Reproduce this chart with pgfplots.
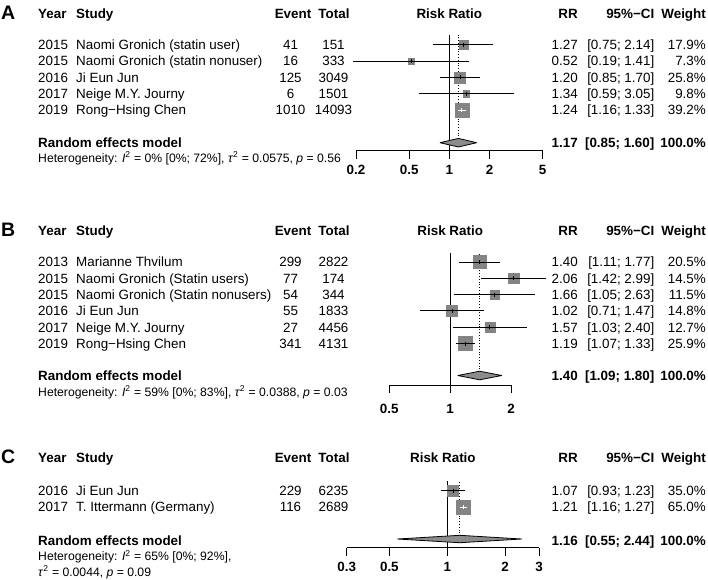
\documentclass[border=0pt]{standalone}
\usepackage{fontspec}
\setmainfont{Liberation Sans}
\usepackage{pgfplots}
\usepackage{pgfplotstable}
\pgfplotsset{compat=1.18}
\definecolor{sqgray}{RGB}{132,132,132}
\definecolor{dmgray}{RGB}{140,140,140}
\newcommand\fs{\fontsize{13.4}{16}\selectfont}
\newcommand\fh{\fontsize{12.2}{14}\selectfont}
\newcommand\fl{\fontsize{19.5}{22}\selectfont\bfseries}
\newcommand\tk{\fontsize{13.4}{16}\selectfont\bfseries}
\tikzset{t/.style={inner sep=0pt,font=\fs}}
% y = baseline in reference pixels (from top)
\newcommand\studyrow[8]{%
 \node[t,anchor=base west] at (38,-#1) {#2};
 \node[t,anchor=base west] at (76,-#1) {#3};
 \node[t,anchor=base] at (290.5,-#1) {#4};
 \node[t,anchor=base] at (333.5,-#1) {#5};
 \node[t,anchor=base east] at (578,-#1) {#6};
 \node[t,anchor=base east] at (654.5,-#1) {#7};
 \node[t,anchor=base east] at (706,-#1) {#8};
}
\newcommand\header[3]{% letter, baseline, risk-ratio centre x
 \node[inner sep=0pt,anchor=base west,font=\fl] at (1,-#2-1) {#1};
 \node[t,anchor=base west,font=\fs\bfseries] at (38,-#2) {Year};
 \node[t,anchor=base west,font=\fs\bfseries] at (76,-#2) {Study};
 \node[t,anchor=base,font=\fs\bfseries] at (293,-#2) {Event};
 \node[t,anchor=base,font=\fs\bfseries] at (334,-#2) {Total};
 \node[t,anchor=base,font=\fs\bfseries] at (#3,-#2) {Risk Ratio};
 \node[t,anchor=base east,font=\fs\bfseries] at (578,-#2) {RR};
 \node[t,anchor=base east,font=\fs\bfseries] at (654.5,-#2) {95\%−CI};
 \node[t,anchor=base east,font=\fs\bfseries] at (706,-#2) {Weight};
}
\newcommand\rerow[4]{% baseline, rr, ci, weight
 \node[t,anchor=base west,font=\fs\bfseries] at (38,-#1) {Random effects model};
 \node[t,anchor=base east,font=\fs\bfseries] at (578,-#1) {#2};
 \node[t,anchor=base east,font=\fs\bfseries] at (654.5,-#1) {#3};
 \node[t,anchor=base east,font=\fs\bfseries] at (706,-#1) {#4};
}
\pgfplotstableread{
rr   lo   hi   y     s
1.27 0.75 2.14 44.8  9
0.52 0.19 1.41 61.1  5.5
1.20 0.85 1.70 77.4  11
1.34 0.59 3.05 93.7  6.2
1.24 1.16 1.33 110.0 14
}\tabA
\pgfplotstableread{
rr   lo   hi   y     s
1.40 1.11 1.77 262.0 12.7
2.06 1.42 2.99 278.3 10.3
1.66 1.05 2.63 294.6 9.3
1.02 0.71 1.47 310.9 10.7
1.57 1.03 2.40 327.2 10
1.19 1.07 1.33 343.5 14.3
}\tabB
\pgfplotstableread{
rr   lo   hi   y     s
1.07 0.93 1.23 490.5 11
1.21 1.16 1.27 507.0 14
}\tabC
\begin{document}
\begin{tikzpicture}[x=1pt,y=1pt]
\path[use as bounding box] (0,0) rectangle (708,-579);
% ---------------- Panel A
\header{A}{18.1}{449.3}
\studyrow{49.6}{2015}{Naomi Gronich (statin user)}{41}{151}{1.27}{[0.75; 2.14]}{17.9\%}
\studyrow{65.9}{2015}{Naomi Gronich (statin nonuser)}{16}{333}{0.52}{[0.19; 1.41]}{7.3\%}
\studyrow{82.2}{2016}{Ji Eun Jun}{125}{3049}{1.20}{[0.85; 1.70]}{25.8\%}
\studyrow{98.5}{2017}{Neige M.Y. Journy}{6}{1501}{1.34}{[0.59; 3.05]}{9.8\%}
\studyrow{114.8}{2019}{Rong−Hsing Chen}{1010}{14093}{1.24}{[1.16; 1.33]}{39.2\%}
\rerow{147.5}{1.17}{[0.85; 1.60]}{100.0\%}
\node[inner sep=0pt,anchor=base west,font=\fh] at (38,-162) {Heterogeneity: \textit{I}\textsuperscript{2} = 0\% [0\%; 72\%], \textit{τ}\textsuperscript{2} = 0.0575, \textit{p} = 0.56};
\begin{axis}[scale only axis, anchor=south west, clip=false, clip marker paths=true,
  xmode=log, axis x line*=bottom, axis y line=none, ytick=\empty,
  tick align=outside, major tick length=8pt, xminorticks=false,
  axis line style={line width=1pt}, every tick/.style={black,line width=1pt},
  /pgf/number format/assume math mode=true,
  at={(356pt,-150.5pt)}, width=186.7pt, height=115.5pt,
  xmin=0.2, xmax=5, ymin=-150.5, ymax=-35,
  xtick={0.2,0.5,1,2,5}, xticklabels={0.2,0.5,1,2,5},
  xticklabel style={font=\tk, yshift=-3pt}]
 \addplot[line width=1pt] coordinates {(1,-150.5) (1,-35)};
 \addplot[line width=0.8pt, dash pattern=on 1pt off 1.8pt] coordinates {(1.17,-142) (1.17,-35)};
 \addplot[scatter, only marks, mark=square*,
  scatter/use mapped color={draw=sqgray,fill=sqgray},
  visualization depends on={\thisrow{s}/2 \as \msz},
  scatter/@pre marker code/.append style={/tikz/mark size=\msz}]
  table[x=rr, y expr=-\thisrow{y}]{\tabA};
 \addplot[line width=1pt, black] coordinates {(0.75,-44.8) (2.14,-44.8)};
 \addplot[line width=1pt, black] coordinates {(0.19,-61.1) (1.41,-61.1)};
 \addplot[line width=1pt, black] coordinates {(0.85,-77.4) (1.70,-77.4)};
 \addplot[line width=1pt, black] coordinates {(0.59,-93.7) (3.05,-93.7)};
 \addplot[line width=1pt, white] coordinates {(1.16,-110.0) (1.33,-110.0)};
 \addplot[only marks, mark=|, mark size=2pt, line width=0.8pt, black] coordinates {(1.27,-44.8) (0.52,-61.1) (1.20,-77.4) (1.34,-93.7)};
 \addplot[only marks, mark=|, mark size=2pt, line width=0.8pt, white] coordinates {(1.24,-110.0)};
 \addplot[fill=dmgray, draw=black, line width=0.8pt, line join=round] coordinates {(0.85,-142.7) (1.17,-138.4) (1.60,-142.7) (1.17,-147.0) (0.85,-142.7)};
\end{axis}
% ---------------- Panel B
\header{B}{235.5}{450.2}
\studyrow{266.8}{2013}{Marianne Thvilum}{299}{2822}{1.40}{[1.11; 1.77]}{20.5\%}
\studyrow{283.1}{2015}{Naomi Gronich (Statin users)}{77}{174}{2.06}{[1.42; 2.99]}{14.5\%}
\studyrow{299.4}{2015}{Naomi Gronich (Statin nonusers)}{54}{344}{1.66}{[1.05; 2.63]}{11.5\%}
\studyrow{315.7}{2016}{Ji Eun Jun}{55}{1833}{1.02}{[0.71; 1.47]}{14.8\%}
\studyrow{332.0}{2017}{Neige M.Y. Journy}{27}{4456}{1.57}{[1.03; 2.40]}{12.7\%}
\studyrow{348.3}{2019}{Rong−Hsing Chen}{341}{4131}{1.19}{[1.07; 1.33]}{25.9\%}
\rerow{380.6}{1.40}{[1.09; 1.80]}{100.0\%}
\node[inner sep=0pt,anchor=base west,font=\fh] at (38,-396) {Heterogeneity: \textit{I}\textsuperscript{2} = 59\% [0\%; 83\%], \textit{τ}\textsuperscript{2} = 0.0388, \textit{p} = 0.03};
\begin{axis}[scale only axis, anchor=south west, clip=false, clip marker paths=true,
  xmode=log, axis x line*=bottom, axis y line=none, ytick=\empty,
  tick align=outside, major tick length=8pt, xminorticks=false,
  axis line style={line width=1pt}, every tick/.style={black,line width=1pt},
  /pgf/number format/assume math mode=true,
  at={(389.3pt,-385pt)}, width=121.7pt, height=131.7pt,
  xmin=0.5, xmax=2, ymin=-385, ymax=-253.3,
  xtick={0.5,1,2}, xticklabels={0.5,1,2},
  xticklabel style={font=\tk, yshift=-8pt}]
 \addplot[line width=1pt] coordinates {(1,-385) (1,-253.3)};
 \addplot[line width=0.8pt, dash pattern=on 1pt off 1.8pt] coordinates {(1.40,-375) (1.40,-253.3)};
 \addplot[scatter, only marks, mark=square*,
  scatter/use mapped color={draw=sqgray,fill=sqgray},
  visualization depends on={\thisrow{s}/2 \as \msz},
  scatter/@pre marker code/.append style={/tikz/mark size=\msz}]
  table[x=rr, y expr=-\thisrow{y}]{\tabB};
 \addplot[line width=1pt, black] coordinates {(1.11,-262.0) (1.77,-262.0)};
 \addplot[line width=1pt, black] coordinates {(1.42,-278.3) (2.99,-278.3)};
 \addplot[line width=1pt, black] coordinates {(1.05,-294.6) (2.63,-294.6)};
 \addplot[line width=1pt, black] coordinates {(0.71,-310.9) (1.47,-310.9)};
 \addplot[line width=1pt, black] coordinates {(1.03,-327.2) (2.40,-327.2)};
 \addplot[line width=1pt, black] coordinates {(1.07,-343.5) (1.33,-343.5)};
 \addplot[only marks, mark=|, mark size=2pt, line width=0.8pt, black] coordinates {(1.40,-262.0) (2.06,-278.3) (1.66,-294.6) (1.02,-310.9) (1.57,-327.2) (1.19,-343.5)};
 \addplot[fill=dmgray, draw=black, line width=0.8pt, line join=round] coordinates {(1.09,-375.5) (1.40,-371.2) (1.80,-375.5) (1.40,-379.8) (1.09,-375.5)};
\end{axis}
% ---------------- Panel C
\header{C}{462.8}{442.9}
\studyrow{495.3}{2016}{Ji Eun Jun}{229}{6235}{1.07}{[0.93; 1.23]}{35.0\%}
\studyrow{511.8}{2017}{T. Ittermann (Germany)}{116}{2689}{1.21}{[1.16; 1.27]}{65.0\%}
\rerow{545.5}{1.16}{[0.55; 2.44]}{100.0\%}
\node[inner sep=0pt,anchor=base west,font=\fh] at (38,-560.4) {Heterogeneity: \textit{I}\textsuperscript{2} = 65\% [0\%; 92\%],};
\node[inner sep=0pt,anchor=base west,font=\fh] at (38,-576.2) {\textit{τ}\textsuperscript{2} = 0.0044, \textit{p} = 0.09};
\begin{axis}[scale only axis, anchor=south west, clip=false, clip marker paths=true,
  xmode=log, axis x line*=bottom, axis y line=none, ytick=\empty,
  tick align=outside, major tick length=8pt, xminorticks=false,
  axis line style={line width=1pt}, every tick/.style={black,line width=1pt},
  /pgf/number format/assume math mode=true,
  at={(346.7pt,-547.7pt)}, width=192.3pt, height=66.7pt,
  xmin=0.3, xmax=3, ymin=-547.7, ymax=-481,
  xtick={0.3,0.5,1,2,3}, xticklabels={0.3,0.5,1,2,3},
  xticklabel style={font=\tk, yshift=-3pt}]
 \addplot[line width=1pt] coordinates {(1,-547.7) (1,-481)};
 \addplot[line width=0.8pt, dash pattern=on 1pt off 1.8pt] coordinates {(1.16,-539) (1.16,-481)};
 \addplot[scatter, only marks, mark=square*,
  scatter/use mapped color={draw=sqgray,fill=sqgray},
  visualization depends on={\thisrow{s}/2 \as \msz},
  scatter/@pre marker code/.append style={/tikz/mark size=\msz}]
  table[x=rr, y expr=-\thisrow{y}]{\tabC};
 \addplot[line width=1pt, black] coordinates {(0.93,-490.5) (1.23,-490.5)};
 \addplot[line width=1pt, white] coordinates {(1.16,-507.0) (1.27,-507.0)};
 \addplot[only marks, mark=|, mark size=2pt, line width=0.8pt, black] coordinates {(1.07,-490.5)};
 \addplot[only marks, mark=|, mark size=2pt, line width=0.8pt, white] coordinates {(1.21,-507.0)};
 \addplot[fill=dmgray, draw=black, line width=0.8pt, line join=round] coordinates {(0.55,-539) (1.16,-535.3) (2.44,-539) (1.16,-542.7) (0.55,-539)};
\end{axis}
\end{tikzpicture}
\end{document}
